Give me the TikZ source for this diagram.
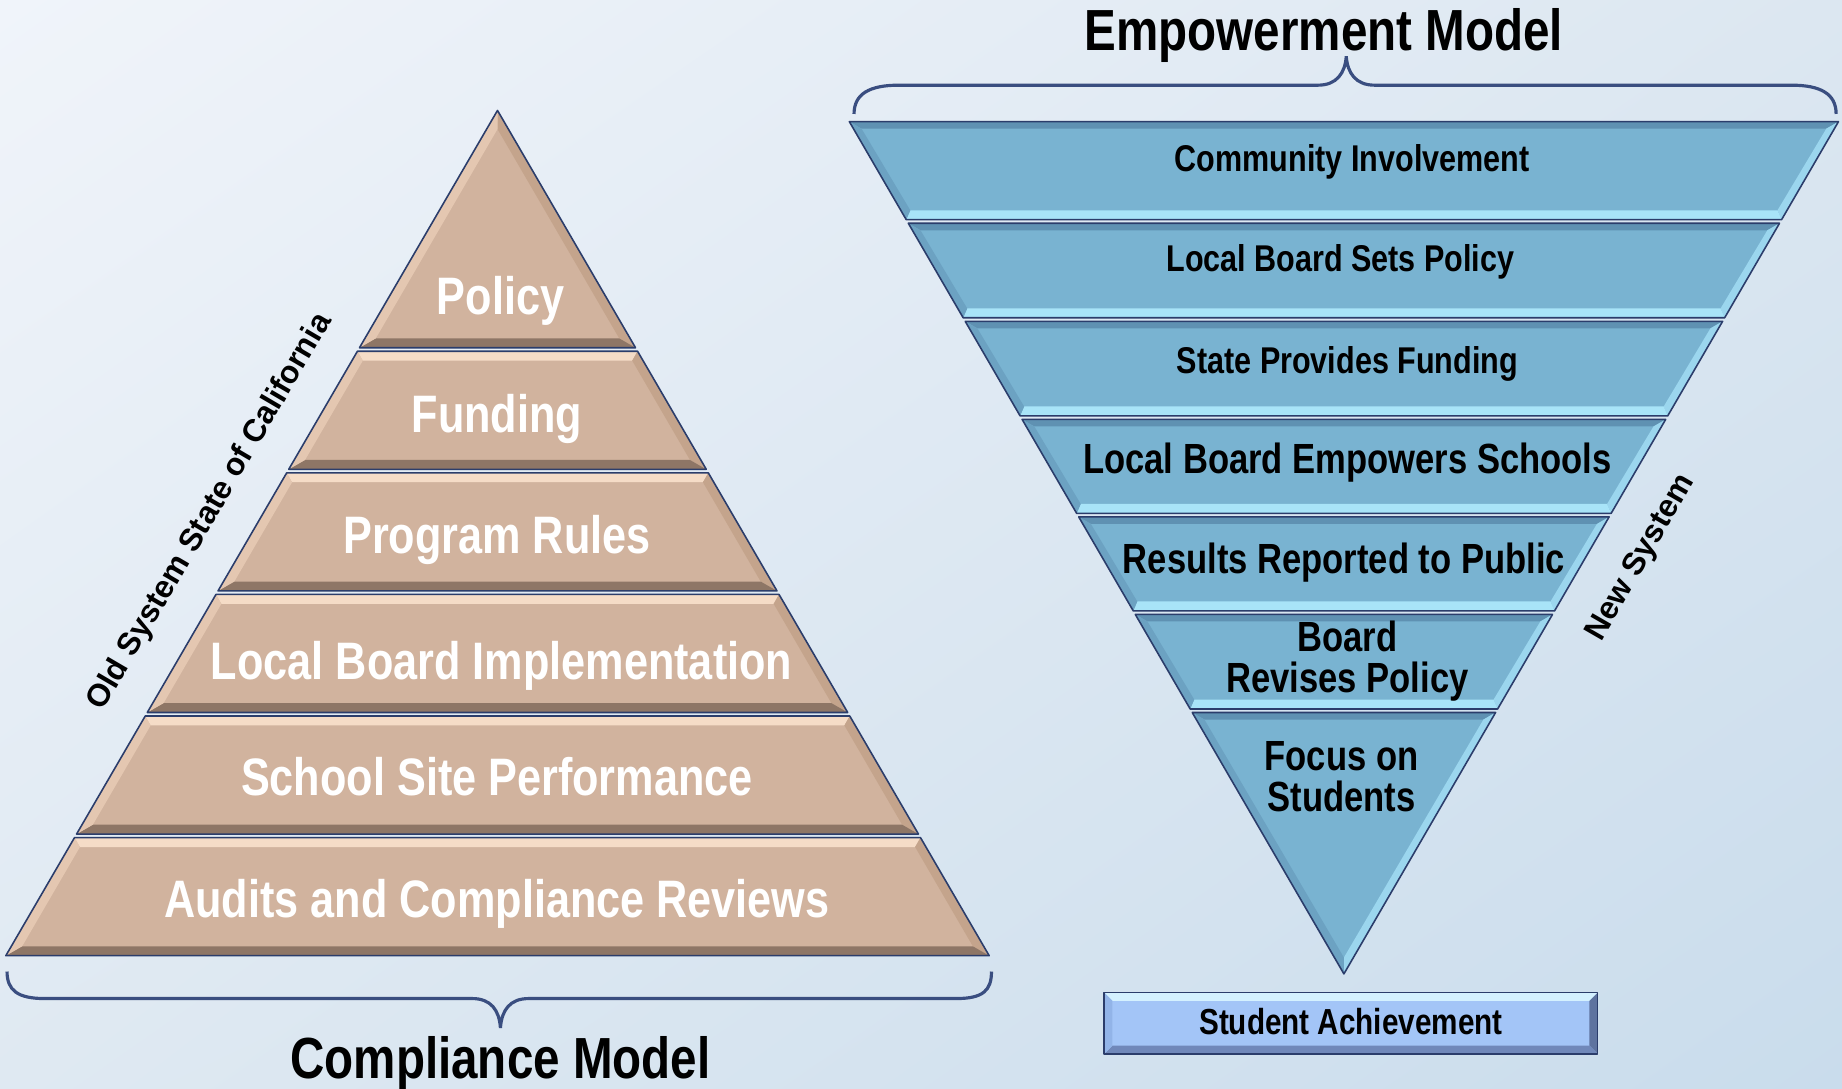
\documentclass[tikz,border=0pt]{standalone}
\usepackage{fontspec}
\setmainfont{Liberation Sans}
\newfontfamily\narrowsans[FakeStretch=0.82]{Liberation Sans}
\usetikzlibrary{shadings}

\definecolor{navy}{HTML}{2B3D6B}
\definecolor{bracenavy}{HTML}{3A4E80}
\definecolor{bgA}{HTML}{F0F4FA}
\definecolor{bgB}{HTML}{DCE7F1}
\definecolor{bgC}{HTML}{DFE9F2}
\definecolor{bgD}{HTML}{C9DCEC}
% pyramid
\definecolor{tan}{HTML}{D1B39E}
\definecolor{tanhi}{HTML}{F5DCC7}
\definecolor{tanlt}{HTML}{E4C7B1}
\definecolor{tanrt}{HTML}{C4A48C}
\definecolor{tandk}{HTML}{8E7666}
% funnel
\definecolor{sky}{HTML}{79B3D1}
\definecolor{skytop}{HTML}{5F91B2}
\definecolor{skylt}{HTML}{6CA2C2}
\definecolor{skyrt}{HTML}{9BD6EE}
\definecolor{skybot}{HTML}{A8E4F8}
% achievement box
\definecolor{ach}{HTML}{A3C5F7}
\definecolor{achtop}{HTML}{D4F1FF}
\definecolor{achlt}{HTML}{92B4E8}
\definecolor{achrt}{HTML}{5E739F}
\definecolor{achbot}{HTML}{7088BA}

\begin{document}
\begin{tikzpicture}[x=0.11747mm, y=-0.11747mm,
    bevel line/.style = {draw=navy, line width=0.45pt, line join=round},
    brace line/.style = {draw=bracenavy, line width=0.9pt},
    pyr text/.style = {text=white, anchor=base, font=\narrowsans\bfseries\fontsize{15}{15}\selectfont},
    fun text/.style = {anchor=base, font=\narrowsans\bfseries\fontsize{10.6}{12}\selectfont},
    fun big/.style = {align=center, font=\narrowsans\bfseries\fontsize{12}{11.7}\selectfont},
    model title/.style = {anchor=base, font=\narrowsans\bfseries\fontsize{16.5}{18}\selectfont},
    side text/.style = {font=\bfseries\fontsize{9}{10}\selectfont},
  ]
  \useasboundingbox (0,0) rectangle (1568,927);
  \shade[upper left=bgA, upper right=bgB, lower left=bgC, lower right=bgD] (0,0) rectangle (1568,927);

  % compliance pyramid
  \foreach \t/\b in {94/296, 299/399.5, 402.5/503, 506/606.5, 609.5/710, 713/813.5} {
    \pgfmathsetmacro\wt{(\t-94)*0.5817}
    \pgfmathsetmacro\wb{(\b-94)*0.5817}
    \pgfmathsetmacro\yi{max(\t+8,94+1.99*8)}
    \pgfmathsetmacro\wi{max((\yi-94)*0.5817-9.25,0)}
    \pgfmathsetmacro\yj{\b-8}
    \pgfmathsetmacro\wj{(\yj-94)*0.5817-9.25}
    \fill[tan] (423.5-\wt,\t) -- (423.5+\wt,\t) -- (423.5+\wb,\b) -- (423.5-\wb,\b) -- cycle;
    \fill[tanhi] (423.5-\wt,\t) -- (423.5+\wt,\t) -- (423.5+\wi,\yi) -- (423.5-\wi,\yi) -- cycle;
    \fill[tanrt] (423.5+\wt,\t) -- (423.5+\wb,\b) -- (423.5+\wj,\yj) -- (423.5+\wi,\yi) -- cycle;
    \fill[tandk] (423.5+\wb,\b) -- (423.5-\wb,\b) -- (423.5-\wj,\yj) -- (423.5+\wj,\yj) -- cycle;
    \fill[tanlt] (423.5-\wb,\b) -- (423.5-\wt,\t) -- (423.5-\wi,\yi) -- (423.5-\wj,\yj) -- cycle;
    \draw[bevel line] (423.5-\wt,\t) -- (423.5+\wt,\t) -- (423.5+\wb,\b) -- (423.5-\wb,\b) -- cycle;
  }

  % empowerment funnel
  \foreach \t/\b in {103.5/187, 190/270.5, 273.5/354, 357/437, 440/520, 523/603.5, 606.5/829} {
    \pgfmathsetmacro\wt{(829-\t)*0.5803}
    \pgfmathsetmacro\wb{(829-\b)*0.5803}
    \pgfmathsetmacro\yi{\t+6}
    \pgfmathsetmacro\wi{(829-\yi)*0.5803-6.9}
    \pgfmathsetmacro\yj{min(\b-8,829-1.99*7)}
    \pgfmathsetmacro\wj{max((829-\yj)*0.5803-8.1,0)}
    \fill[sky] (1144-\wt,\t) -- (1144+\wt,\t) -- (1144+\wb,\b) -- (1144-\wb,\b) -- cycle;
    \fill[skytop] (1144-\wt,\t) -- (1144+\wt,\t) -- (1144+\wi,\yi) -- (1144-\wi,\yi) -- cycle;
    \fill[skyrt] (1144+\wt,\t) -- (1144+\wb,\b) -- (1144+\wj,\yj) -- (1144+\wi,\yi) -- cycle;
    \fill[skybot] (1144+\wb,\b) -- (1144-\wb,\b) -- (1144-\wj,\yj) -- (1144+\wj,\yj) -- cycle;
    \fill[skylt] (1144-\wb,\b) -- (1144-\wt,\t) -- (1144-\wi,\yi) -- (1144-\wj,\yj) -- cycle;
    \draw[bevel line] (1144-\wt,\t) -- (1144+\wt,\t) -- (1144+\wb,\b) -- (1144-\wb,\b) -- cycle;
  }

  % student achievement box
  \fill[ach] (940,845) rectangle (1360,897);
  \fill[achtop] (940,845) -- (1360,845) -- (1353,852) -- (947,852) -- cycle;
  \fill[achrt] (1360,845) -- (1360,897) -- (1353,890) -- (1353,852) -- cycle;
  \fill[achbot] (1360,897) -- (940,897) -- (947,890) -- (1353,890) -- cycle;
  \fill[achlt] (940,897) -- (940,845) -- (947,852) -- (947,890) -- cycle;
  \draw[bevel line] (940,845) rectangle (1360,897);

  % braces
  \draw[brace line] (6,827) .. controls (6,843) and (15,850) .. (38,850) -- (402,850)
    .. controls (418,850) and (425,860) .. (426,875) .. controls (427,860) and (434,850) .. (450,850)
    -- (814,850) .. controls (837,850) and (844,843) .. (844,827);
  \draw[brace line] (727,97) .. controls (727,80) and (740,72.5) .. (765,72.5) -- (1122,72.5)
    .. controls (1138,72.5) and (1145,62) .. (1146,48) .. controls (1147,62) and (1154,72.5) .. (1170,72.5)
    -- (1525,72.5) .. controls (1550,72.5) and (1563,80) .. (1563,97);

  % labels
  \node[pyr text] (policy) at (426,268) {Policy};
  \node[pyr text] (funding) at (423,368) {Funding};
  \node[pyr text] (rules) at (423,471) {Program Rules};
  \node[pyr text] (implement) at (427,578) {Local Board Implementation};
  \node[pyr text] (site) at (423,677) {School Site Performance};
  \node[pyr text] (audits) at (423,781) {Audits and Compliance Reviews};

  \node[fun text] (community) at (1151,146) {Community Involvement};
  \node[fun text] (sets) at (1141,231) {Local Board Sets Policy};
  \node[fun text] (provides) at (1147,318) {State Provides Funding};
  \node[fun text, font=\narrowsans\bfseries\fontsize{12}{12}\selectfont] (empowers) at (1147,403) {Local Board Empowers Schools};
  \node[fun text, font=\narrowsans\bfseries\fontsize{12}{12}\selectfont] (results) at (1144,488) {Results Reported to Public};
  \node[fun big] (revises) at (1147,563) {Board\\Revises Policy};
  \node[fun big] (focus) at (1142,661) {Focus on\\Students};
  \node[fun text, font=\narrowsans\bfseries\fontsize{10.3}{10}\selectfont] (achieve) at (1150,881) {Student Achievement};

  \node[side text, rotate=59.6] (oldsys) at (179,436) {Old System State of California};
  \node[side text, rotate=60] (newsys) at (1397,475) {New System};

  \node[model title] (empower) at (1127,43) {Empowerment Model};
  \node[model title] (compliance) at (426,918) {Compliance Model};
\end{tikzpicture}
\end{document}
